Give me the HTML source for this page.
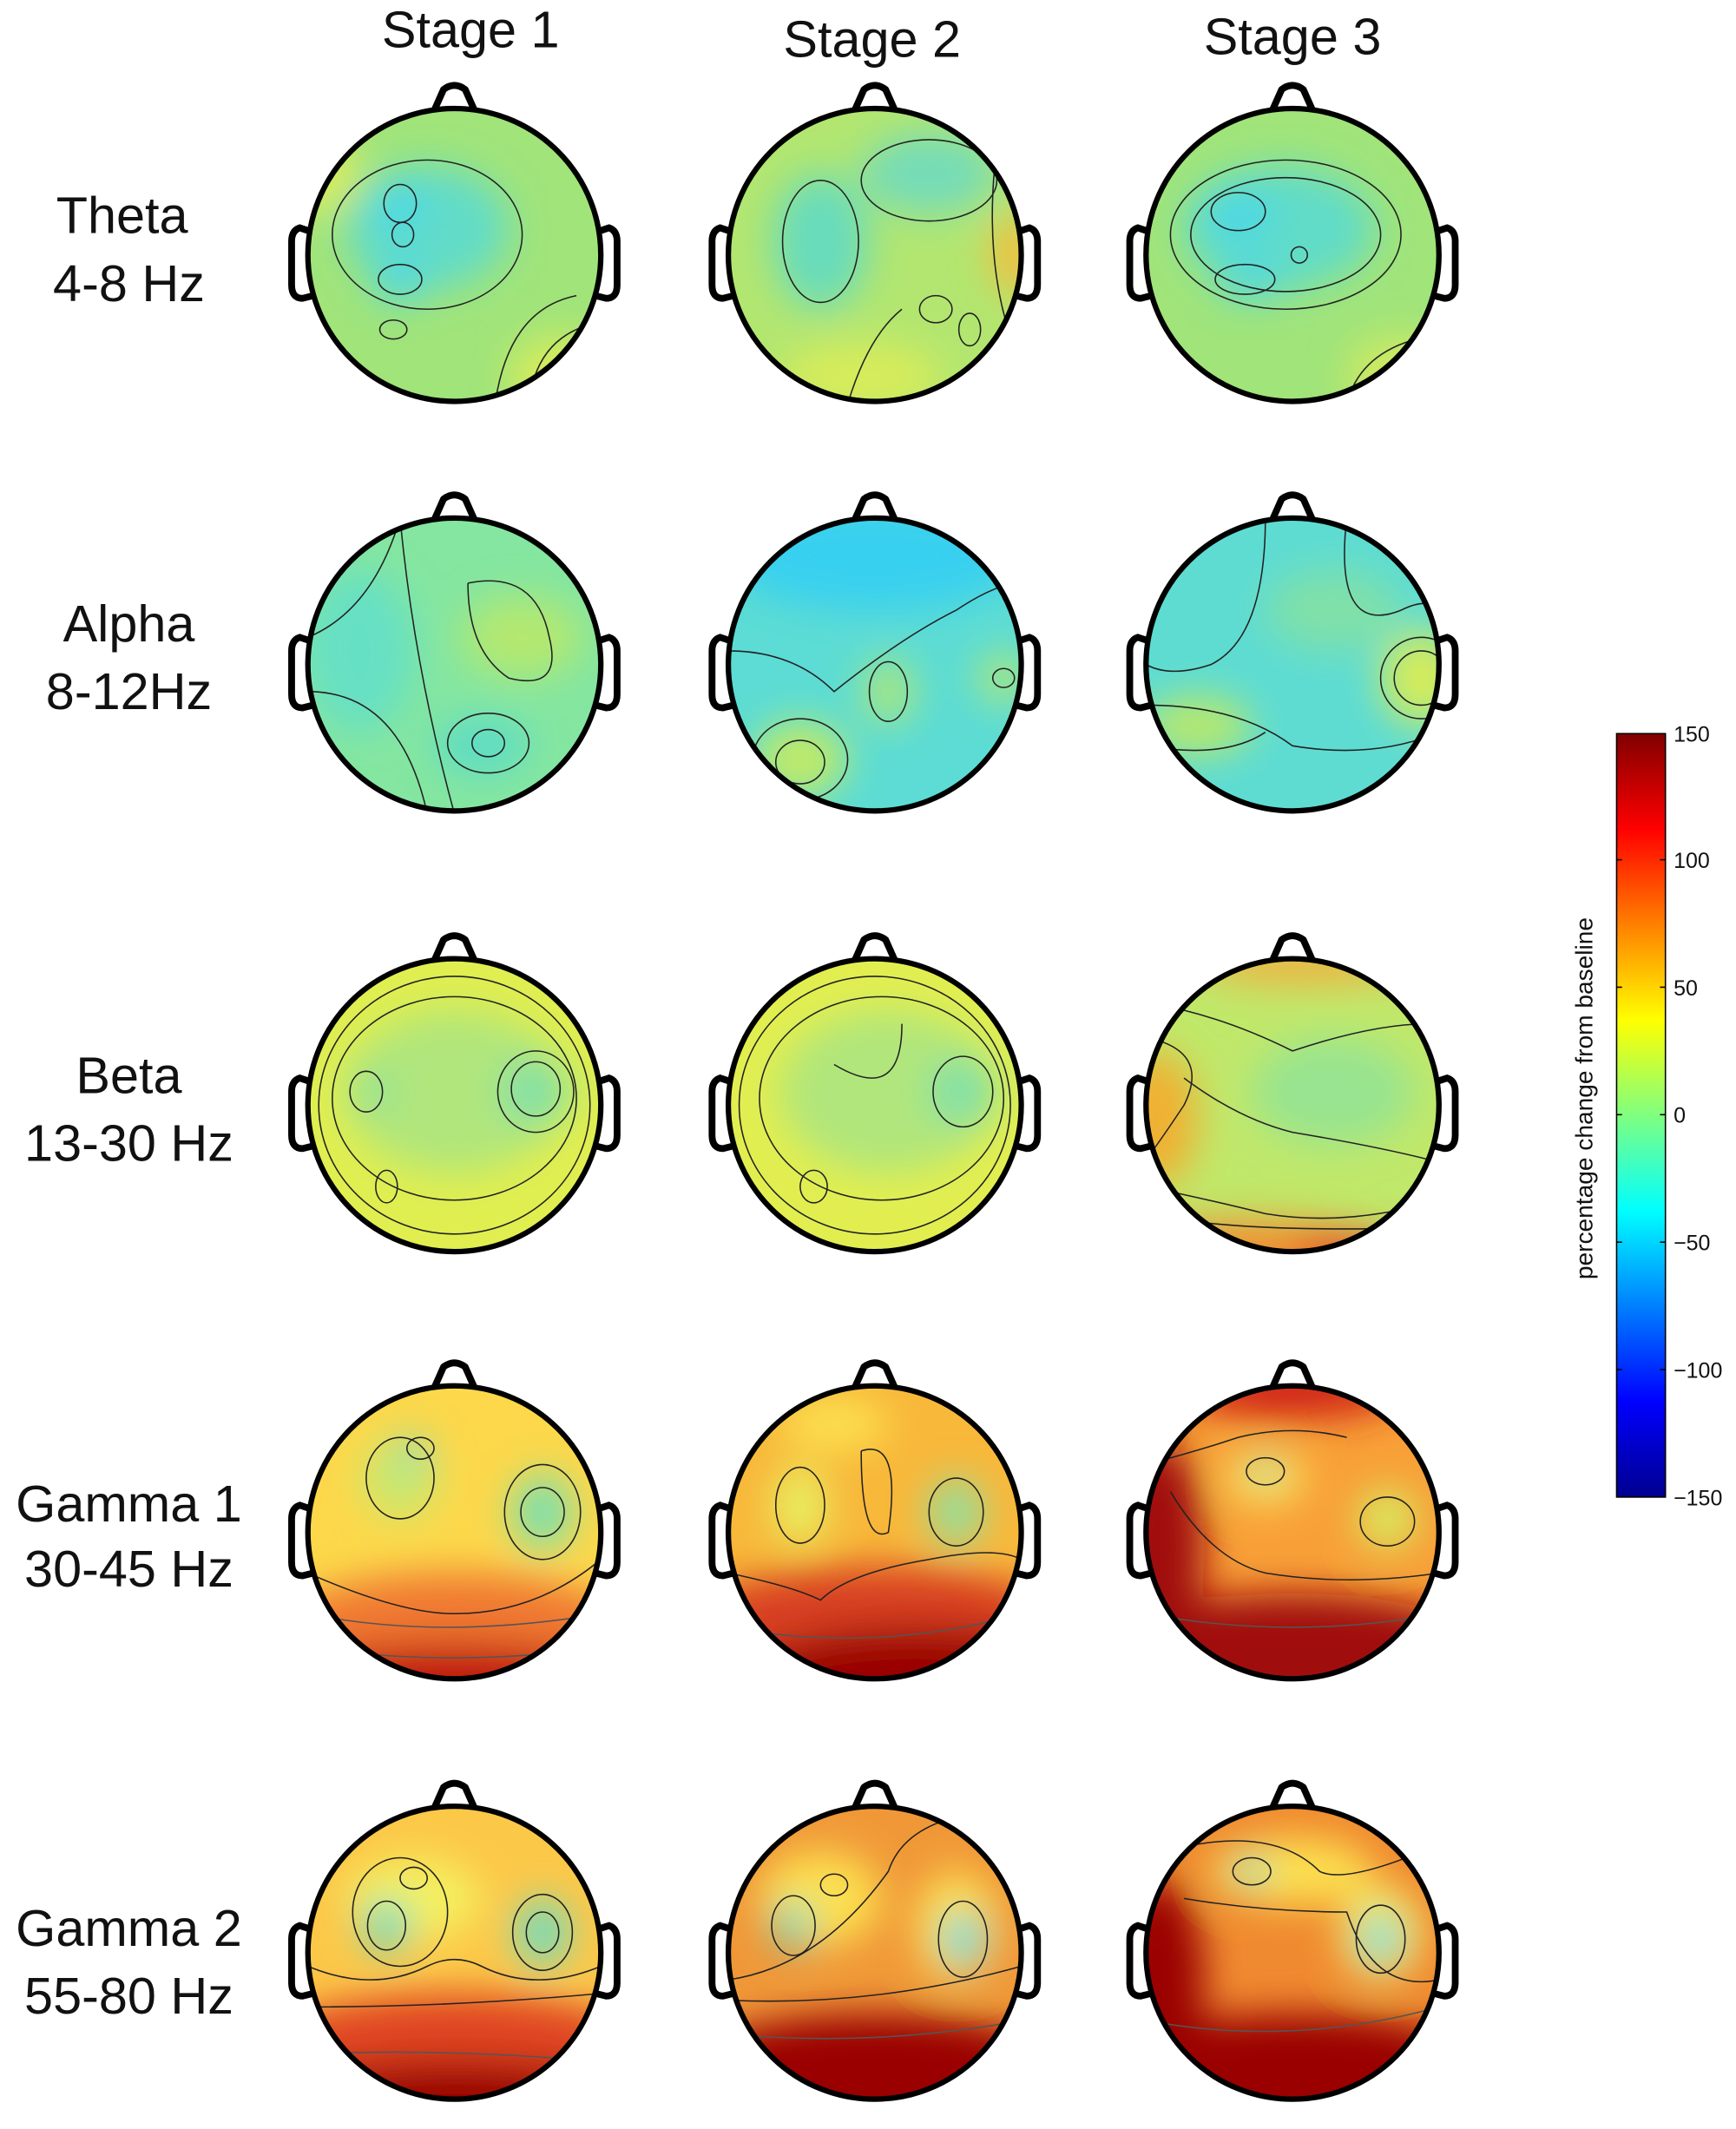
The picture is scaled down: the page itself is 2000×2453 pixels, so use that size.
<!DOCTYPE html>
<html><head><meta charset="utf-8"><style>
html,body{margin:0;padding:0;background:#fff}
svg{display:block}
text{font-family:"Liberation Sans",sans-serif;fill:#111}
</style></head><body>
<svg width="2000" height="2453" viewBox="0 0 1280 1570" xmlns="http://www.w3.org/2000/svg">
<defs>
<clipPath id="c"><circle cx="0" cy="0" r="108"/></clipPath>
<filter id="b" filterUnits="userSpaceOnUse" x="-250" y="-250" width="500" height="500"><feGaussianBlur stdDeviation="14"/></filter>
<linearGradient id="jet" x1="0" y1="1" x2="0" y2="0">
<stop offset="0" stop-color="#00008f"/><stop offset="0.125" stop-color="#0000ff"/>
<stop offset="0.375" stop-color="#00ffff"/><stop offset="0.625" stop-color="#ffff00"/>
<stop offset="0.875" stop-color="#ff0000"/><stop offset="1" stop-color="#800000"/>
</linearGradient>
<g id="head">
<path d="M-16,-104 L-8,-122 Q0,-128 8,-122 L16,-104" fill="none" stroke="#000" stroke-width="5" stroke-linejoin="round"/>
<path d="M-108,-18 L-114,-20 Q-120,-18 -120,-10 L-120,22 Q-120,32 -112,32 L-104,30" fill="none" stroke="#000" stroke-width="5"/>
<path d="M108,-18 L114,-20 Q120,-18 120,-10 L120,22 Q120,32 112,32 L104,30" fill="none" stroke="#000" stroke-width="5"/>
</g>
<g id="ring"><circle r="108" fill="none" stroke="#000" stroke-width="4"/></g>
</defs>

<text x="347" y="35" font-size="38" text-anchor="middle">Stage 1</text>
<text x="643" y="42" font-size="38" text-anchor="middle">Stage 2</text>
<text x="953" y="40" font-size="38" text-anchor="middle">Stage 3</text>

<g font-size="38" text-anchor="middle">
<text x="90" y="172">Theta</text><text x="95" y="222">4-8 Hz</text>
<text x="95" y="473">Alpha</text><text x="95" y="523">8-12Hz</text>
<text x="95" y="806">Beta</text><text x="95" y="856">13-30 Hz</text>
<text x="95" y="1122">Gamma 1</text><text x="95" y="1170">30-45 Hz</text>
<text x="95" y="1435">Gamma 2</text><text x="95" y="1485">55-80 Hz</text>
</g>

<!-- THETA -->
<g transform="translate(335,188)"><use href="#head"/><g clip-path="url(#c)"><rect x="-110" y="-110" width="220" height="220" fill="#a0e47a"/><g filter="url(#b)">
<ellipse cx="-20" cy="-20" rx="60" ry="45" fill="#62dcc8"/><ellipse cx="-40" cy="20" rx="20" ry="14" fill="#48d8e8"/><ellipse cx="-40" cy="-35" rx="18" ry="18" fill="#48d8e8"/><ellipse cx="-100" cy="-60" rx="30" ry="30" fill="#d8ec5a"/><ellipse cx="80" cy="90" rx="40" ry="30" fill="#d8ec5a"/></g>
<g fill="none" stroke="#222" stroke-width="1"><ellipse cx="-20" cy="-15" rx="70" ry="55"/><ellipse cx="-40" cy="18" rx="16" ry="11"/><ellipse cx="-40" cy="-38" rx="12" ry="14"/><ellipse cx="-38" cy="-15" rx="8" ry="9"/><ellipse cx="-45" cy="55" rx="10" ry="7"/><path d="M30,110 Q40,40 90,30"/><path d="M55,110 Q60,60 105,50"/></g></g><use href="#ring"/></g>
<g transform="translate(645,188)"><use href="#head"/><g clip-path="url(#c)"><rect x="-110" y="-110" width="220" height="220" fill="#b2e670"/><g filter="url(#b)">
<ellipse cx="-40" cy="-10" rx="35" ry="50" fill="#68dcbc"/><ellipse cx="40" cy="-60" rx="50" ry="30" fill="#74dcb8"/><ellipse cx="105" cy="0" rx="20" ry="30" fill="#f0c040"/><ellipse cx="-10" cy="90" rx="60" ry="25" fill="#d8ec5a"/></g>
<g fill="none" stroke="#222" stroke-width="1"><ellipse cx="-40" cy="-10" rx="28" ry="45"/><ellipse cx="40" cy="-55" rx="50" ry="30"/><path d="M90,-80 Q80,0 100,60"/><ellipse cx="70" cy="55" rx="8" ry="12"/><ellipse cx="45" cy="40" rx="12" ry="10"/><path d="M-20,110 Q-5,60 20,40"/></g></g><use href="#ring"/></g>
<g transform="translate(953,188)"><use href="#head"/><g clip-path="url(#c)"><rect x="-110" y="-110" width="220" height="220" fill="#a0e47a"/><g filter="url(#b)">
<ellipse cx="-10" cy="-20" rx="70" ry="45" fill="#60dcc8"/><ellipse cx="-40" cy="-30" rx="25" ry="18" fill="#48d8e8"/><ellipse cx="-30" cy="20" rx="25" ry="12" fill="#48d8e8"/><ellipse cx="80" cy="90" rx="40" ry="30" fill="#d0ea60"/></g>
<g fill="none" stroke="#222" stroke-width="1"><ellipse cx="-5" cy="-15" rx="85" ry="55"/><ellipse cx="-5" cy="-15" rx="70" ry="42"/><ellipse cx="-40" cy="-32" rx="20" ry="14"/><ellipse cx="-35" cy="18" rx="22" ry="11"/><circle cx="5" cy="0" r="6"/><path d="M40,110 Q50,70 100,60"/></g></g><use href="#ring"/></g>

<!-- ALPHA -->
<g transform="translate(335,490)"><use href="#head"/><g clip-path="url(#c)"><rect x="-110" y="-110" width="220" height="220" fill="#84e6a0"/><g filter="url(#b)">
<ellipse cx="50" cy="-20" rx="45" ry="30" fill="#b4e870"/><ellipse cx="-70" cy="-10" rx="40" ry="60" fill="#66e0c4"/><ellipse cx="20" cy="60" rx="35" ry="20" fill="#5cdcc8"/></g>
<g fill="none" stroke="#222" stroke-width="1"><path d="M10,-60 Q60,-70 70,-20 Q80,20 40,10 Q10,-10 10,-60"/><ellipse cx="25" cy="58" rx="30" ry="22"/><ellipse cx="25" cy="58" rx="12" ry="10"/><path d="M-108,-20 Q-60,-40 -40,-108"/><path d="M-108,20 Q-40,20 -20,110"/><path d="M-40,-108 Q-30,0 0,110"/></g></g><use href="#ring"/></g>
<g transform="translate(645,490)"><use href="#head"/><g clip-path="url(#c)"><rect x="-110" y="-110" width="220" height="220" fill="#5cdcd4"/><g filter="url(#b)">
<ellipse cx="0" cy="-80" rx="110" ry="40" fill="#38d0f0"/><ellipse cx="-55" cy="70" rx="35" ry="28" fill="#c0ea68"/><ellipse cx="10" cy="20" rx="20" ry="25" fill="#a8e680"/><ellipse cx="95" cy="10" rx="20" ry="20" fill="#a8e680"/></g>
<g fill="none" stroke="#222" stroke-width="1"><path d="M-108,-10 Q-60,-10 -30,20 Q20,-20 60,-40 Q90,-60 108,-60"/><ellipse cx="-55" cy="70" rx="35" ry="30"/><ellipse cx="-55" cy="72" rx="18" ry="16"/><ellipse cx="10" cy="20" rx="14" ry="22"/><ellipse cx="95" cy="10" rx="8" ry="7"/></g></g><use href="#ring"/></g>
<g transform="translate(953,490)"><use href="#head"/><g clip-path="url(#c)"><rect x="-110" y="-110" width="220" height="220" fill="#5edcd2"/><g filter="url(#b)">
<ellipse cx="95" cy="10" rx="30" ry="35" fill="#d6ec5a"/><ellipse cx="-70" cy="45" rx="40" ry="22" fill="#b8e86c"/><ellipse cx="30" cy="-40" rx="50" ry="30" fill="#80e0a8"/></g>
<g fill="none" stroke="#222" stroke-width="1"><path d="M-20,-108 Q-20,-20 -60,0 Q-90,10 -108,0"/><path d="M40,-108 Q30,-20 80,-40 Q100,-50 108,-40"/><ellipse cx="95" cy="10" rx="30" ry="30"/><ellipse cx="95" cy="10" rx="20" ry="20"/><path d="M-108,30 Q-40,30 0,60 Q60,70 108,50"/><path d="M-108,60 Q-50,70 -20,50"/></g></g><use href="#ring"/></g>

<!-- BETA -->
<g transform="translate(335,815)"><use href="#head"/><g clip-path="url(#c)"><rect x="-110" y="-110" width="220" height="220" fill="#e0ee50"/><g filter="url(#b)">
<ellipse cx="0" cy="-10" rx="80" ry="60" fill="#b0e67c"/><ellipse cx="60" cy="-10" rx="25" ry="25" fill="#80e0a8"/><ellipse cx="-60" cy="-10" rx="15" ry="15" fill="#90e29c"/></g>
<g fill="none" stroke="#222" stroke-width="1"><ellipse cx="0" cy="-5" rx="90" ry="75"/><ellipse cx="60" cy="-10" rx="28" ry="30"/><ellipse cx="60" cy="-12" rx="18" ry="20"/><ellipse cx="-65" cy="-10" rx="12" ry="15"/><ellipse cx="-50" cy="60" rx="8" ry="12"/><ellipse cx="0" cy="0" rx="100" ry="95"/></g></g><use href="#ring"/></g>
<g transform="translate(645,815)"><use href="#head"/><g clip-path="url(#c)"><rect x="-110" y="-110" width="220" height="220" fill="#e2ee50"/><g filter="url(#b)">
<ellipse cx="10" cy="-10" rx="80" ry="60" fill="#b0e67c"/><ellipse cx="65" cy="-10" rx="25" ry="25" fill="#80e0a8"/></g>
<g fill="none" stroke="#222" stroke-width="1"><ellipse cx="5" cy="-5" rx="90" ry="75"/><ellipse cx="65" cy="-10" rx="22" ry="26"/><ellipse cx="-45" cy="60" rx="10" ry="12"/><ellipse cx="0" cy="0" rx="100" ry="95"/><path d="M-30,-30 Q20,0 20,-60"/></g></g><use href="#ring"/></g>
<g transform="translate(953,815)"><use href="#head"/><g clip-path="url(#c)"><rect x="-110" y="-110" width="220" height="220" fill="#c0e86a"/><g filter="url(#b)">
<ellipse cx="-100" cy="10" rx="30" ry="50" fill="#f0b030"/><ellipse cx="-30" cy="110" rx="100" ry="25" fill="#f09030"/><ellipse cx="40" cy="110" rx="40" ry="15" fill="#e84820"/><ellipse cx="10" cy="-105" rx="80" ry="15" fill="#f0b040"/><ellipse cx="30" cy="-10" rx="60" ry="40" fill="#98e490"/></g>
<g fill="none" stroke="#222" stroke-width="1"><path d="M-80,-70 Q-40,-60 0,-40 Q60,-60 100,-60"/><path d="M-80,-20 Q-40,10 0,20 Q60,30 100,40"/><path d="M-108,60 Q-60,70 -20,80 Q40,90 108,70"/><path d="M-108,80 Q-40,95 108,90"/><path d="M-108,-50 Q-60,-40 -80,0 Q-100,30 -108,40"/></g></g><use href="#ring"/></g>

<!-- GAMMA 1 -->
<g transform="translate(335,1130)"><use href="#head"/><g clip-path="url(#c)"><rect x="-110" y="-110" width="220" height="220" fill="#fcd84a"/><g filter="url(#b)">
<ellipse cx="0" cy="80" rx="140" ry="50" fill="#f07830"/><ellipse cx="0" cy="110" rx="120" ry="28" fill="#c01810"/><ellipse cx="-40" cy="-40" rx="28" ry="30" fill="#c8e870"/><ellipse cx="65" cy="-15" rx="22" ry="28" fill="#78e0b0"/><ellipse cx="-30" cy="-60" rx="10" ry="10" fill="#60dcc8"/></g>
<g fill="none" stroke="#222" stroke-width="1"><path d="M-108,30 Q-40,60 0,60 Q60,60 108,20"/><ellipse cx="-40" cy="-40" rx="25" ry="30"/><ellipse cx="-25" cy="-62" rx="10" ry="8"/><ellipse cx="65" cy="-15" rx="28" ry="35"/><ellipse cx="65" cy="-15" rx="16" ry="18"/><path d="M-108,60 Q-10,80 108,60" stroke="#555"/><path d="M-108,85 Q0,100 108,85" stroke="#555"/></g></g><use href="#ring"/></g>
<g transform="translate(645,1130)"><use href="#head"/><g clip-path="url(#c)"><rect x="-110" y="-110" width="220" height="220" fill="#f8b83a"/><g filter="url(#b)">
<ellipse cx="0" cy="75" rx="150" ry="50" fill="#d84020"/><ellipse cx="30" cy="110" rx="130" ry="40" fill="#9a0606"/><ellipse cx="-55" cy="-20" rx="20" ry="30" fill="#e8f060"/><ellipse cx="60" cy="-15" rx="20" ry="25" fill="#90e0a0"/><ellipse cx="-30" cy="-80" rx="40" ry="20" fill="#fce050"/></g>
<g fill="none" stroke="#222" stroke-width="1"><ellipse cx="-55" cy="-20" rx="18" ry="28"/><ellipse cx="60" cy="-15" rx="20" ry="25"/><path d="M-108,30 Q-60,40 -40,50 Q-20,30 40,20 Q90,10 108,20"/><path d="M-10,-60 Q20,-70 10,0 Q-10,10 -10,-60"/><path d="M-108,70 Q0,90 108,60" stroke="#555"/></g></g><use href="#ring"/></g>
<g transform="translate(953,1130)"><use href="#head"/><g clip-path="url(#c)"><rect x="-110" y="-110" width="220" height="220" fill="#f8a038"/><g filter="url(#b)">
<ellipse cx="0" cy="90" rx="150" ry="45" fill="#a00808"/><ellipse cx="-100" cy="10" rx="35" ry="80" fill="#a00808"/><ellipse cx="0" cy="-105" rx="80" ry="22" fill="#d02818"/><ellipse cx="-20" cy="-40" rx="30" ry="20" fill="#fce050"/><ellipse cx="70" cy="-10" rx="22" ry="22" fill="#d8ec60"/><ellipse cx="-20" cy="-45" rx="10" ry="8" fill="#60dcc8"/></g>
<g fill="none" stroke="#222" stroke-width="1"><path d="M-108,-50 Q-70,-60 -40,-70 Q0,-80 40,-70"/><path d="M-90,-30 Q-60,20 -20,30 Q40,40 108,30"/><ellipse cx="-20" cy="-45" rx="14" ry="10"/><ellipse cx="70" cy="-8" rx="20" ry="18"/><path d="M-108,60 Q0,80 108,60" stroke="#555"/></g></g><use href="#ring"/></g>

<!-- GAMMA 2 -->
<g transform="translate(335,1440)"><use href="#head"/><g clip-path="url(#c)"><rect x="-110" y="-110" width="220" height="220" fill="#fcc848"/><g filter="url(#b)">
<ellipse cx="0" cy="75" rx="150" ry="45" fill="#e04420"/><ellipse cx="0" cy="110" rx="130" ry="30" fill="#9a0606"/><ellipse cx="-30" cy="-40" rx="50" ry="30" fill="#f4f060"/><ellipse cx="-50" cy="-20" rx="18" ry="20" fill="#70dcc0"/><ellipse cx="65" cy="-15" rx="20" ry="25" fill="#70dcc0"/></g>
<g fill="none" stroke="#222" stroke-width="1"><path d="M-108,10 Q-60,30 -20,10 Q0,0 20,10 Q60,30 108,10"/><ellipse cx="-40" cy="-30" rx="35" ry="40"/><ellipse cx="-50" cy="-20" rx="14" ry="18"/><ellipse cx="-30" cy="-55" rx="10" ry="8"/><ellipse cx="65" cy="-15" rx="22" ry="28"/><ellipse cx="65" cy="-15" rx="12" ry="15"/><path d="M-108,40 Q0,40 108,30"/><path d="M-108,75 Q-20,70 108,80" stroke="#555"/></g></g><use href="#ring"/></g>
<g transform="translate(645,1440)"><use href="#head"/><g clip-path="url(#c)"><rect x="-110" y="-110" width="220" height="220" fill="#f09838"/><g filter="url(#b)">
<ellipse cx="0" cy="95" rx="150" ry="50" fill="#9a0606"/><ellipse cx="-40" cy="-40" rx="45" ry="35" fill="#fce050"/><ellipse cx="60" cy="-20" rx="30" ry="40" fill="#fce050"/><ellipse cx="-60" cy="-20" rx="14" ry="18" fill="#70dcc0"/><ellipse cx="65" cy="-10" rx="15" ry="20" fill="#50d8e0"/></g>
<g fill="none" stroke="#222" stroke-width="1"><path d="M-108,20 Q-40,10 10,-60 Q20,-90 60,-100"/><ellipse cx="-60" cy="-20" rx="16" ry="22"/><ellipse cx="-30" cy="-50" rx="10" ry="8"/><ellipse cx="65" cy="-10" rx="18" ry="28"/><path d="M-108,35 Q0,40 108,10"/><path d="M-108,60 Q0,70 108,50" stroke="#555"/></g></g><use href="#ring"/></g>
<g transform="translate(953,1440)"><use href="#head"/><g clip-path="url(#c)"><rect x="-110" y="-110" width="220" height="220" fill="#f08a30"/><g filter="url(#b)">
<ellipse cx="0" cy="90" rx="150" ry="45" fill="#9a0606"/><ellipse cx="-100" cy="20" rx="35" ry="75" fill="#9a0606"/><ellipse cx="0" cy="-60" rx="60" ry="25" fill="#fce050"/><ellipse cx="65" cy="-15" rx="30" ry="35" fill="#f4ec60"/><ellipse cx="-30" cy="-60" rx="12" ry="10" fill="#60dcc8"/><ellipse cx="65" cy="-10" rx="14" ry="18" fill="#50d8e0"/></g>
<g fill="none" stroke="#222" stroke-width="1"><path d="M-70,-80 Q-10,-90 20,-60 Q40,-50 108,-80"/><path d="M-80,-40 Q-20,-30 40,-30 Q60,30 108,20"/><ellipse cx="-30" cy="-60" rx="14" ry="10"/><ellipse cx="65" cy="-10" rx="18" ry="25"/><path d="M-108,50 Q0,70 108,40" stroke="#555"/></g></g><use href="#ring"/></g>

<!-- Colorbar -->
<rect x="1192" y="541" width="36" height="563" fill="url(#jet)" stroke="#000" stroke-width="1"/>
<g stroke="#000" stroke-width="1">
<line x1="1192" y1="634" x2="1196" y2="634"/><line x1="1224" y1="634" x2="1228" y2="634"/>
<line x1="1192" y1="728" x2="1196" y2="728"/><line x1="1224" y1="728" x2="1228" y2="728"/>
<line x1="1192" y1="822" x2="1196" y2="822"/><line x1="1224" y1="822" x2="1228" y2="822"/>
<line x1="1192" y1="916" x2="1196" y2="916"/><line x1="1224" y1="916" x2="1228" y2="916"/>
<line x1="1192" y1="1010" x2="1196" y2="1010"/><line x1="1224" y1="1010" x2="1228" y2="1010"/>
</g>
<g font-size="16">
<text x="1234" y="547">150</text><text x="1234" y="640">100</text><text x="1234" y="734">50</text>
<text x="1234" y="828">0</text><text x="1234" y="922">−50</text><text x="1234" y="1016">−100</text><text x="1234" y="1110">−150</text>
</g>
<text transform="translate(1174,810) rotate(-90)" font-size="18" text-anchor="middle">percentage change from baseline</text>
</svg>
</body></html>
